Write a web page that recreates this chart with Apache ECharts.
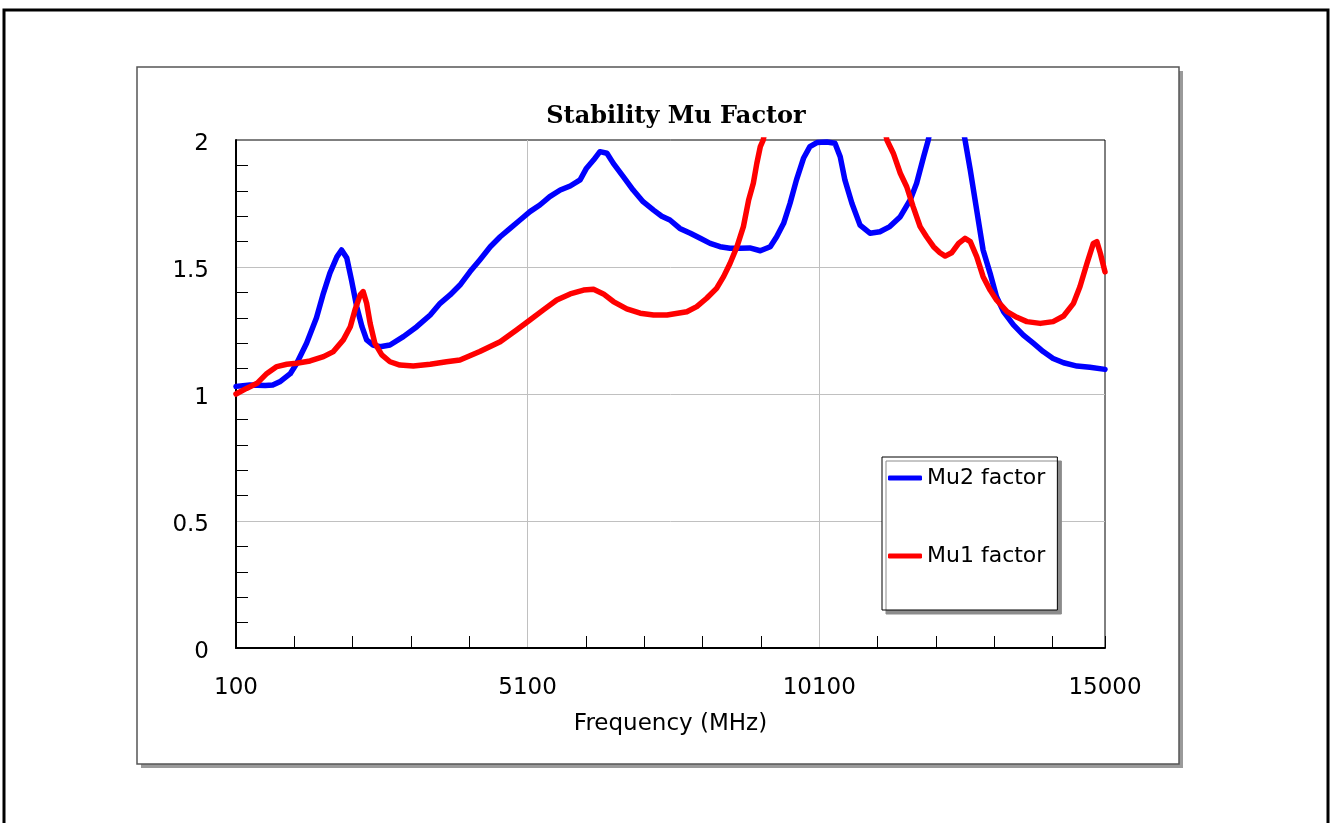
<!DOCTYPE html>
<html>
<head>
<meta charset="utf-8">
<title>Stability Mu Factor</title>
<script src="https://cdn.jsdelivr.net/npm/echarts@6.0.0/dist/echarts.min.js"></script>
<style>
html, body { margin: 0; padding: 0; background: #fff; }
#chart { width: 1331px; height: 823px; }
</style>
</head>
<body>
<div id="chart"></div>
<script>
// data (frequency in MHz, Mu factor)
const titleText = 'Stability Mu Factor';
const xName = 'Frequency (MHz)';
const seriesNames = ['Mu2 factor', 'Mu1 factor'];

const mu2Freq = [100, 340, 600, 730, 850, 1030, 1140, 1310, 1480, 1590, 1710, 1830, 1910, 2000, 2080, 2170, 2260, 2340, 2450, 2570,
  2740, 2970, 3200, 3430, 3600, 3770, 3940, 4110, 4280, 4460, 4630, 4800, 4970, 5140, 5310, 5480, 5660, 5830, 6000, 6110,
  6230, 6340, 6460, 6570, 6740, 6910, 7080, 7260, 7400, 7540, 7710, 7890, 8060, 8230, 8400, 8570, 8740, 8910, 9090, 9260,
  9370, 9490, 9600, 9710, 9830, 9940, 10060, 10230, 10370, 10460, 10540, 10660, 10800, 10970, 11140, 11310, 11490, 11660, 11770, 11890,
  11970, 12090, 12290, 12480, 12600, 12690, 12800, 12910, 13030, 13140, 13260, 13430, 13600, 13770, 13940, 14110, 14290, 14520, 14740, 15000];
const mu2 = [1.03, 1.035, 1.033, 1.035, 1.048, 1.08, 1.12, 1.20, 1.30, 1.39, 1.476, 1.54, 1.567, 1.535, 1.449, 1.344, 1.265, 1.213, 1.193, 1.186,
  1.193, 1.226, 1.265, 1.311, 1.357, 1.39, 1.429, 1.481, 1.528, 1.58, 1.619, 1.652, 1.685, 1.718, 1.744, 1.777, 1.803, 1.819, 1.843, 1.889,
  1.921, 1.954, 1.948, 1.908, 1.856, 1.803, 1.757, 1.724, 1.70, 1.685, 1.652, 1.633, 1.613, 1.593, 1.58, 1.574, 1.574, 1.575, 1.564, 1.58,
  1.619, 1.672, 1.751, 1.843, 1.928, 1.974, 1.99, 1.992, 1.987, 1.934, 1.843, 1.751, 1.665, 1.633, 1.639, 1.659, 1.698, 1.764, 1.83, 1.934,
  2.0, 2.15, 2.35, 2.15, 2.0, 1.882, 1.724, 1.567, 1.475, 1.383, 1.324, 1.272, 1.232, 1.2, 1.167, 1.14, 1.123, 1.11, 1.105, 1.097];

const mu1Freq = [100, 280, 460, 630, 800, 970, 1140, 1370, 1600, 1770, 1940, 2060, 2140, 2230, 2280, 2340, 2400, 2480, 2600, 2740,
  2910, 3140, 3430, 3710, 3940, 4280, 4630, 4910, 5140, 5370, 5600, 5830, 6060, 6230, 6400, 6570, 6800, 7030, 7260, 7490,
  7830, 8000, 8170, 8340, 8460, 8570, 8690, 8800, 8890, 8970, 9030, 9090, 9140, 9430, 10200, 10970, 11260, 11370, 11490, 11600,
  11710, 11830, 11940, 12060, 12170, 12260, 12370, 12490, 12600, 12690, 12800, 12910, 13030, 13140, 13320, 13490, 13660, 13890, 14110, 14290,
  14460, 14570, 14690, 14800, 14860, 14920, 15000];
const mu1 = [1.0, 1.022, 1.042, 1.081, 1.108, 1.117, 1.121, 1.13, 1.147, 1.167, 1.213, 1.265, 1.331, 1.39, 1.403, 1.357, 1.278, 1.2, 1.154, 1.127,
  1.114, 1.11, 1.117, 1.127, 1.134, 1.167, 1.206, 1.252, 1.291, 1.331, 1.37, 1.394, 1.409, 1.412, 1.394, 1.364, 1.335, 1.318, 1.311, 1.311,
  1.324, 1.344, 1.377, 1.416, 1.462, 1.514, 1.58, 1.659, 1.764, 1.83, 1.908, 1.974, 2.0, 2.35, 2.6, 2.35, 2.0, 1.948, 1.869, 1.816,
  1.738, 1.659, 1.619, 1.58, 1.556, 1.543, 1.556, 1.593, 1.613, 1.6, 1.541, 1.462, 1.409, 1.37, 1.324, 1.302, 1.285, 1.278, 1.285, 1.307,
  1.357, 1.422, 1.514, 1.593, 1.6, 1.554, 1.481];

const sansFont = '"DejaVu Sans", Arial, sans-serif';

function pairs(xs, ys) {
  return xs.map((x, i) => [x, ys[i]]);
}

const chart = echarts.init(document.getElementById('chart'));

const option = {
  backgroundColor: '#fff',
  animation: false,
  title: {
    text: titleText,
    left: 671,
    top: 100,
    textAlign: 'center',
    textStyle: {
      fontFamily: '"DejaVu Serif", "Liberation Serif", serif',
      fontWeight: 'bold',
      fontSize: 24,
      color: '#000'
    }
  },
  // page frame and the raised chart panel
  graphic: [
    {
      type: 'rect',
      z: -10,
      silent: true,
      shape: { x: 4, y: 10, width: 1324, height: 840 },
      style: { fill: 'none', stroke: '#000', lineWidth: 3 }
    },
    {
      type: 'rect',
      z: -10,
      silent: true,
      shape: { x: 141, y: 71, width: 1042, height: 697 },
      style: { fill: '#9a9a9a' }
    },
    {
      type: 'rect',
      z: -9,
      silent: true,
      shape: { x: 137, y: 67, width: 1042, height: 697 },
      style: { fill: '#fff', stroke: '#555', lineWidth: 1.5 }
    }
  ],
  legend: {
    data: seriesNames,
    orient: 'vertical',
    left: 882,
    top: 457,
    padding: [10, 12, 43, 6],
    itemGap: 56,
    itemWidth: 34,
    itemHeight: 5,
    icon: 'roundRect',
    backgroundColor: '#fff',
    borderColor: '#000',
    borderWidth: 1,
    borderRadius: 0,
    shadowColor: '#8c8c8c',
    shadowBlur: 0,
    shadowOffsetX: 4,
    shadowOffsetY: 4,
    textStyle: { fontFamily: sansFont, fontSize: 22, color: '#000', lineHeight: 22 }
  },
  grid: {
    left: 236,
    top: 140,
    width: 869,
    height: 508,
    show: true,
    borderColor: '#000',
    borderWidth: 1,
    backgroundColor: 'transparent'
  },
  xAxis: [
    {
      type: 'value',
      min: 100,
      max: 15000,
      interval: 5000,
      z: 1,
      name: xName,
      nameLocation: 'middle',
      nameGap: 65,
      nameTextStyle: { fontFamily: sansFont, fontSize: 23, color: '#000' },
      axisLine: { show: true, lineStyle: { color: '#000', width: 2 } },
      axisTick: { show: false },
      axisLabel: {
        margin: 29,
        showMinLabel: true,
        showMaxLabel: true,
        formatter: (v) => String(v),
        fontFamily: sansFont,
        fontSize: 23,
        color: '#000'
      },
      splitLine: {
        show: true,
        showMinLine: false,
        showMaxLine: false,
        lineStyle: { color: '#c0c0c0', width: 1 }
      }
    },
    {
      // minor tick marks every 1000 MHz
      type: 'value',
      position: 'bottom',
      min: 100,
      max: 15000,
      interval: 1000,
      z: 0,
      axisLine: { show: false },
      axisLabel: { show: false },
      splitLine: { show: false },
      axisTick: { show: true, inside: true, length: 12, lineStyle: { color: '#000', width: 1 } }
    }
  ],
  yAxis: {
    type: 'value',
    min: 0,
    max: 2,
    interval: 0.5,
    axisLine: { show: true, lineStyle: { color: '#000', width: 2 } },
    axisTick: { show: false, inside: true },
    minorTick: { show: true, splitNumber: 5, length: 12, lineStyle: { color: '#000', width: 1 } },
    axisLabel: {
      margin: 27,
      verticalAlign: 'top',
      lineHeight: 8,
      fontFamily: sansFont,
      fontSize: 23,
      color: '#000'
    },
    splitLine: {
      show: true,
      showMinLine: false,
      showMaxLine: false,
      lineStyle: { color: '#c0c0c0', width: 1 }
    }
  },
  series: [
    {
      name: seriesNames[0],
      type: 'line',
      xAxisIndex: 0,
      data: pairs(mu2Freq, mu2),
      showSymbol: false,
      clip: true,
      color: '#0000ff',
      lineStyle: { width: 5.5, color: '#0000ff', cap: 'round', join: 'round' }
    },
    {
      name: seriesNames[1],
      type: 'line',
      xAxisIndex: 0,
      data: pairs(mu1Freq, mu1),
      showSymbol: false,
      clip: true,
      color: '#ff0000',
      lineStyle: { width: 5.5, color: '#ff0000', cap: 'round', join: 'round' }
    }
  ]
};

chart.setOption(option);
window.addEventListener('resize', () => chart.resize());
</script>
</body>
</html>
